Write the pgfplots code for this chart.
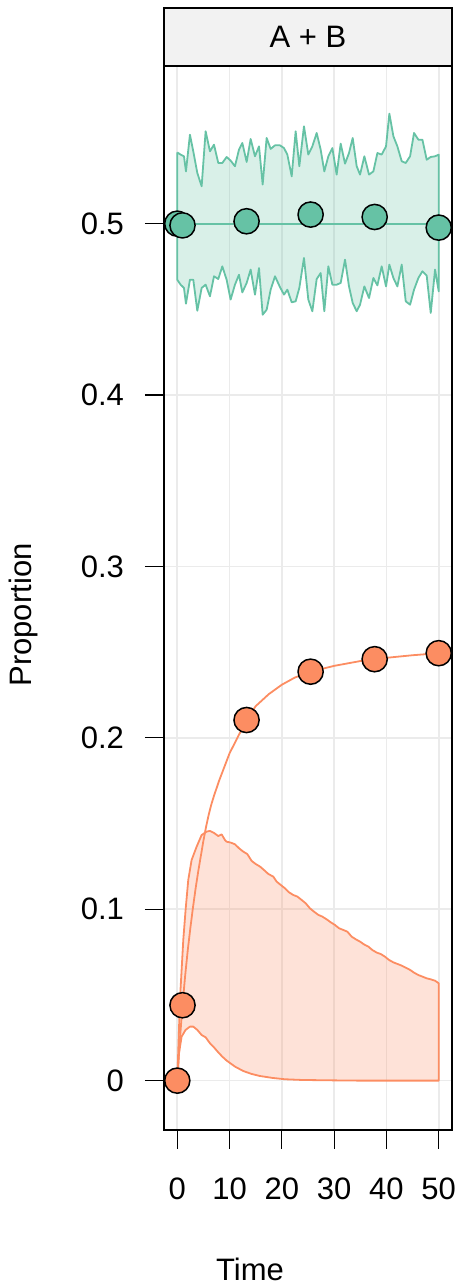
\documentclass[border=0pt]{standalone}
\usepackage{pgfplots}
\usepackage{pgfplotstable}
\pgfplotsset{compat=1.18}
\usepackage{fontspec}
\setmainfont{Liberation Sans}
\definecolor{grn}{HTML}{66C2A5}
\definecolor{org}{HTML}{FC8D62}
\definecolor{stripbg}{HTML}{F2F2F2}
\definecolor{gridc}{HTML}{EBEBEB}

% green band: upper edge forward, then lower edge backward
\pgfplotstableread{
t y
0 0.5416
0.64 0.5403
1.28 0.5393
1.66 0.5305
2.42 0.5519
3.06 0.5422
3.83 0.5296
4.66 0.5218
5.42 0.5539
6.25 0.5422
7.02 0.5461
7.84 0.5354
8.61 0.5354
9.44 0.5389
10.20 0.5368
11.03 0.5335
11.80 0.5432
12.44 0.5471
13.27 0.5360
14.03 0.5494
14.86 0.5393
15.63 0.5451
16.33 0.5228
17.09 0.5500
17.86 0.5436
18.69 0.5457
19.64 0.5457
20.41 0.5441
21.05 0.5403
21.88 0.5276
22.64 0.5539
23.34 0.5335
24.23 0.5568
25.06 0.5403
25.83 0.5451
26.66 0.5529
27.42 0.5432
28.12 0.5305
28.89 0.5393
29.66 0.5441
30.48 0.5286
31.25 0.5467
32.08 0.5350
32.84 0.5412
33.55 0.5500
34.31 0.5335
34.95 0.5286
35.78 0.5393
36.67 0.5286
37.50 0.5305
38.27 0.5412
39.09 0.5403
39.92 0.5451
40.56 0.5642
41.33 0.5510
42.09 0.5451
42.92 0.5364
43.69 0.5354
44.52 0.5393
45.28 0.5529
46.11 0.5490
46.88 0.5490
47.70 0.5373
48.47 0.5389
49.30 0.5393
50.00 0.5403
50.00 0.4605
49.30 0.4732
48.47 0.4479
47.70 0.4697
46.88 0.4722
46.11 0.4683
45.28 0.4615
44.52 0.4527
43.69 0.4547
42.92 0.4761
42.09 0.4634
41.33 0.4683
40.56 0.4761
39.92 0.4634
39.09 0.4751
38.27 0.4640
37.50 0.4683
36.67 0.4566
35.78 0.4634
34.95 0.4527
34.31 0.4489
33.55 0.4537
32.84 0.4634
32.08 0.4790
31.25 0.4654
30.48 0.4644
29.66 0.4644
28.89 0.4751
28.12 0.4489
27.42 0.4712
26.66 0.4677
25.83 0.4489
25.06 0.4557
24.23 0.4800
23.34 0.4625
22.64 0.4547
21.88 0.4541
21.05 0.4615
20.41 0.4586
19.64 0.4630
18.69 0.4693
17.86 0.4615
17.09 0.4498
16.33 0.4469
15.63 0.4741
14.86 0.4586
14.03 0.4732
13.27 0.4654
12.44 0.4599
11.80 0.4702
11.03 0.4644
10.20 0.4557
9.44 0.4673
8.61 0.4751
7.84 0.4677
7.02 0.4693
6.25 0.4576
5.42 0.4644
4.66 0.4625
3.83 0.4492
3.06 0.4673
2.42 0.4673
1.66 0.4533
1.28 0.4625
0.64 0.4644
0 0.4673
0 0.5416
}\greenband

% orange band: upper edge forward, then lower edge backward
\pgfplotstableread{
t y
0 0
0.51 0.0471
1.15 0.0821
1.59 0.0996
2.10 0.1171
2.74 0.1287
3.70 0.1365
4.66 0.1433
5.61 0.1453
6.25 0.1457
7.08 0.1444
7.84 0.1427
8.48 0.1437
9.12 0.1404
9.44 0.1394
10.20 0.1389
11.03 0.1379
11.80 0.1356
12.63 0.1336
13.39 0.1322
14.22 0.1282
14.99 0.1264
15.82 0.1249
16.58 0.1229
17.41 0.1206
18.37 0.1190
19.01 0.1161
19.77 0.1142
20.60 0.1122
21.36 0.1099
22.19 0.1083
22.96 0.1074
23.79 0.1054
24.55 0.1035
25.38 0.1005
26.15 0.0986
26.98 0.0967
27.74 0.0957
28.57 0.0941
29.34 0.0924
30.17 0.0908
30.93 0.0889
31.76 0.0879
32.53 0.0869
33.35 0.0840
34.12 0.0825
34.95 0.0811
35.71 0.0795
36.54 0.0782
37.31 0.0762
38.14 0.0747
38.90 0.0739
39.73 0.0723
40.50 0.0704
41.33 0.0690
42.09 0.0681
42.92 0.0671
43.69 0.0659
44.52 0.0646
45.28 0.0630
46.11 0.0616
46.88 0.0607
47.70 0.0597
48.47 0.0591
49.30 0.0583
50.00 0.0568
50.00 0.0000
34.95 0.0000
28.57 0.0002
23.79 0.0004
20.60 0.0008
18.18 0.0016
15.82 0.0027
14.22 0.0039
12.63 0.0056
11.03 0.0082
9.44 0.0117
8.61 0.0140
7.84 0.0165
7.02 0.0194
6.25 0.0218
5.42 0.0253
4.66 0.0266
3.83 0.0296
3.06 0.0315
2.42 0.0315
1.59 0.0296
0.83 0.0257
0.32 0.0159
0 0
}\orangeband

\pgfplotstableread{
t y
0 0
0.5 0.024
1 0.044
1.5 0.061
2 0.076
2.5 0.089
3 0.101
3.5 0.112
4 0.122
4.5 0.131
5 0.140
5.5 0.148
6 0.155
6.5 0.161
7 0.166
8 0.175
9 0.183
10 0.191
11 0.197
12 0.203
13.25 0.2104
15 0.2185
17.5 0.2255
20 0.2310
22.5 0.2352
25.5 0.2386
30 0.2420
35 0.2448
40 0.2467
45 0.2482
50 0.2494
}\orangemean

\pgfplotstableread{
t y
0 0.5
1 0.499
13.25 0.5014
25.5 0.5053
37.75 0.5039
50 0.4977
}\greenpts

\pgfplotstableread{
t y
0 0
1 0.044
13.25 0.2104
25.5 0.2386
37.75 0.2459
50 0.2494
}\orangepts

\begin{document}
\begin{tikzpicture}
\path[use as bounding box] (-82pt,-77.5pt) rectangle (146.5pt,565pt);
\begin{axis}[
  name=ax, at={(0,0)}, anchor=south west,
  scale only axis, width=144pt, height=532pt,
  xmin=-2.54, xmax=52.54, ymin=-0.0288, ymax=0.592,
  xtick={0,10,20,30,40,50}, xticklabels={0,10,20,30,40,50},
  ytick={0,0.1,0.2,0.3,0.4,0.5}, yticklabels={0,0.1,0.2,0.3,0.4,0.5},
  xtick pos=bottom, ytick pos=left,
  tick align=outside, major tick length=9.5pt,
  tick style={black, line width=0.6pt},
  axis line style={black, line width=0.6pt},
  ticklabel style={font=\fontsize{15.5}{18}\selectfont},
  yticklabel style={xshift=-7pt},
  xticklabel style={yshift=-11pt},
  grid=major, major grid style={gridc, line width=0.8pt},
]
\addplot[fill=grn, fill opacity=0.25, draw=grn, line width=0.9pt, line join=round] table {\greenband};
\addplot[fill=org, fill opacity=0.25, draw=org, line width=0.9pt, line join=round] table {\orangeband};
\addplot[grn, line width=0.9pt] coordinates {(0,0.5) (50,0.5)};
\addplot[org, line width=0.9pt] table {\orangemean};
\addplot[only marks, mark=*, mark size=6.3pt, mark options={fill=grn, draw=black, line width=0.75pt}] table {\greenpts};
\addplot[only marks, mark=*, mark size=6.3pt, mark options={fill=org, draw=black, line width=0.75pt}] table {\orangepts};
\end{axis}
\draw[fill=stripbg, draw=black, line width=0.6pt] (ax.north west) rectangle ([yshift=29pt]ax.north east);
\node[font=\fontsize{15.5}{18}\selectfont] at ([yshift=14.5pt]ax.north) {A + B};
\node[rotate=90, font=\fontsize{15.5}{18}\selectfont] at (-70.5pt,257.5pt) {Proportion};
\node[font=\fontsize{15.5}{18}\selectfont] at (43pt,-69.5pt) {Time};
\end{tikzpicture}
\end{document}
